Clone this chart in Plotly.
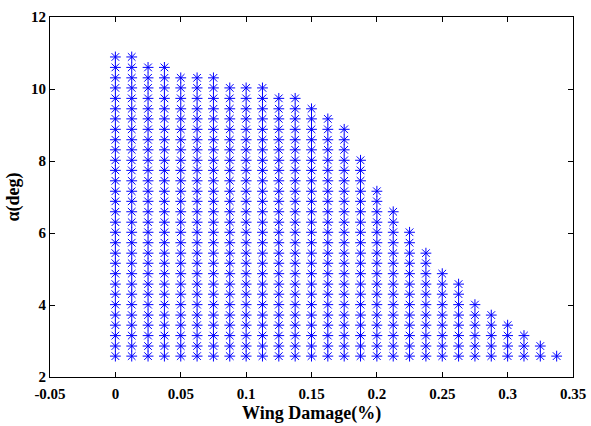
import plotly.graph_objects as go

# Wing damage levels (fraction), one column of feasible points per level
damage = [0.0, 0.0125, 0.025, 0.0375, 0.05, 0.0625, 0.075, 0.0875, 0.1, 0.1125,
          0.125, 0.1375, 0.15, 0.1625, 0.175, 0.1875, 0.2, 0.2125, 0.225, 0.2375,
          0.25, 0.2625, 0.275, 0.2875, 0.3, 0.3125, 0.325, 0.3375]

# Largest feasible angle of attack (deg) for each damage level
alpha_max = [10.89, 10.89, 10.60, 10.60, 10.31, 10.31, 10.31, 10.03, 10.03, 10.03,
             9.74, 9.74, 9.45, 9.17, 8.88, 8.02, 7.16, 6.59, 6.02, 5.44,
             4.87, 4.58, 4.01, 3.72, 3.44, 3.15, 2.86, 2.58]

# Angle-of-attack levels tested (deg)
alpha_levels = [2.58, 2.86, 3.15, 3.44, 3.72, 4.01, 4.30, 4.58, 4.87, 5.16,
                5.44, 5.73, 6.02, 6.30, 6.59, 6.88, 7.16, 7.45, 7.74, 8.02,
                8.31, 8.59, 8.88, 9.17, 9.45, 9.74, 10.03, 10.31, 10.60, 10.89]

x_ticks = [-0.05, 0, 0.05, 0.1, 0.15, 0.2, 0.25, 0.3, 0.35]
x_ticktext = ["-0.05", "0", "0.05", "0.1", "0.15", "0.2", "0.25", "0.3", "0.35"]
y_ticks = [2, 4, 6, 8, 10, 12]

xs, ys = [], []
for d, amax in zip(damage, alpha_max):
    for a in alpha_levels:
        if a <= amax + 1e-6:
            xs.append(d)
            ys.append(a)

fig = go.Figure()
fig.add_trace(go.Scatter(
    x=xs, y=ys, mode="markers",
    marker=dict(symbol="asterisk-open", size=9, color="#0000FF",
                line=dict(color="#0000FF", width=1)),
    showlegend=False,
))

font_family = "Liberation Serif"
axis_common = dict(
    showline=True, linecolor="black", linewidth=1, mirror="ticks",
    ticks="inside", ticklen=5, tickcolor="black", tickwidth=1,
    showgrid=False, zeroline=False, automargin=False,
    tickfont=dict(family=font_family, size=15, color="black", weight="bold"),
)

fig.update_layout(
    width=591, height=426,
    margin=dict(l=50, r=18, t=17, b=49),
    paper_bgcolor="white", plot_bgcolor="white",
    xaxis=dict(range=[-0.05, 0.35], tickvals=x_ticks, ticktext=x_ticktext,
               ticklabelstandoff=3, **axis_common),
    yaxis=dict(range=[2, 12], tickvals=y_ticks,
               title=dict(text="α(deg)", standoff=6,
                          font=dict(family=font_family, size=18, color="black", weight="bold")),
               **axis_common),
)

# x-axis title placed below the tick labels
fig.add_annotation(
    text="Wing Damage(%)", xref="paper", yref="paper", x=0.5, y=0,
    xanchor="center", yanchor="middle", yshift=-36, showarrow=False,
    font=dict(family=font_family, size=18, color="black", weight="bold"),
)

fig.write_html("out.html")
